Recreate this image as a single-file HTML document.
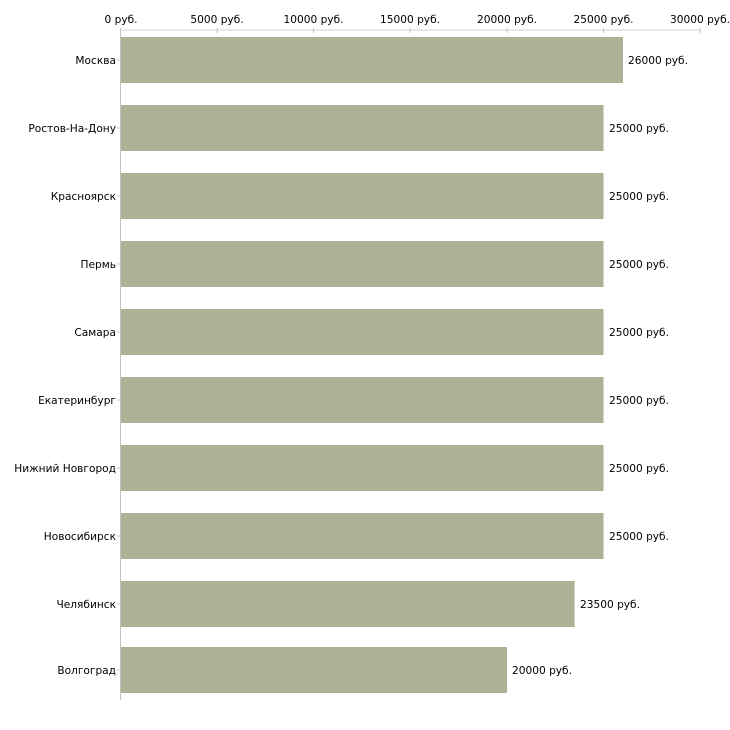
<!DOCTYPE html>
<html><head><meta charset="utf-8"><style>
html,body{margin:0;padding:0;background:#fff;}
svg{display:block;font-family:"DejaVu Sans","Liberation Sans",sans-serif;font-size:10.6px;}
</style></head><body>
<svg width="730" height="730" xmlns="http://www.w3.org/2000/svg">
<line x1="120" y1="30" x2="700" y2="30" stroke="#d0d0c8" stroke-width="1"/>
<line x1="120.5" y1="30" x2="120.5" y2="700" stroke="#c0c0c0" stroke-width="1"/>
<g stroke="#c8c8b0">
<line x1="120.5" y1="28" x2="120.5" y2="33"/>
<line x1="217" y1="28" x2="217" y2="33"/>
<line x1="313.5" y1="28" x2="313.5" y2="33"/>
<line x1="410" y1="28" x2="410" y2="33"/>
<line x1="507" y1="28" x2="507" y2="33"/>
<line x1="603.5" y1="28" x2="603.5" y2="33"/>
<line x1="700" y1="28" x2="700" y2="33"/>
</g>
<g fill="#000" text-anchor="middle">
<text x="121" y="23">0 руб.</text>
<text x="217" y="23">5000 руб.</text>
<text x="313.5" y="23">10000 руб.</text>
<text x="410" y="23">15000 руб.</text>
<text x="507" y="23">20000 руб.</text>
<text x="603.5" y="23">25000 руб.</text>
<text x="700" y="23">30000 руб.</text>
</g>
<g fill="#adb296">
<rect x="121" y="37" width="502" height="46"/>
<rect x="121" y="105" width="482.5" height="46"/>
<rect x="121" y="173" width="482.5" height="46"/>
<rect x="121" y="241" width="482.5" height="46"/>
<rect x="121" y="309" width="482.5" height="46"/>
<rect x="121" y="377" width="482.5" height="46"/>
<rect x="121" y="445" width="482.5" height="46"/>
<rect x="121" y="513" width="482.5" height="46"/>
<rect x="121" y="581" width="453.6" height="46"/>
<rect x="121" y="647" width="386" height="46"/>
</g>
<g stroke="#c8c8b0">
<line x1="117" y1="60" x2="121" y2="60"/><line x1="117" y1="128" x2="121" y2="128"/>
<line x1="117" y1="196" x2="121" y2="196"/><line x1="117" y1="264" x2="121" y2="264"/>
<line x1="117" y1="332" x2="121" y2="332"/><line x1="117" y1="400" x2="121" y2="400"/>
<line x1="117" y1="468" x2="121" y2="468"/><line x1="117" y1="536" x2="121" y2="536"/>
<line x1="117" y1="604" x2="121" y2="604"/><line x1="117" y1="670" x2="121" y2="670"/>
</g>
<g fill="#000" text-anchor="end">
<text x="116" y="64">Москва</text>
<text x="116" y="132">Ростов-На-Дону</text>
<text x="116" y="200">Красноярск</text>
<text x="116" y="268">Пермь</text>
<text x="116" y="336">Самара</text>
<text x="116" y="404">Екатеринбург</text>
<text x="116" y="472">Нижний Новгород</text>
<text x="116" y="540">Новосибирск</text>
<text x="116" y="608">Челябинск</text>
<text x="116" y="674">Волгоград</text>
</g>
<g fill="#000">
<text x="628" y="64">26000 руб.</text>
<text x="609" y="132">25000 руб.</text>
<text x="609" y="200">25000 руб.</text>
<text x="609" y="268">25000 руб.</text>
<text x="609" y="336">25000 руб.</text>
<text x="609" y="404">25000 руб.</text>
<text x="609" y="472">25000 руб.</text>
<text x="609" y="540">25000 руб.</text>
<text x="580" y="608">23500 руб.</text>
<text x="512" y="674">20000 руб.</text>
</g>
</svg>
</body></html>
